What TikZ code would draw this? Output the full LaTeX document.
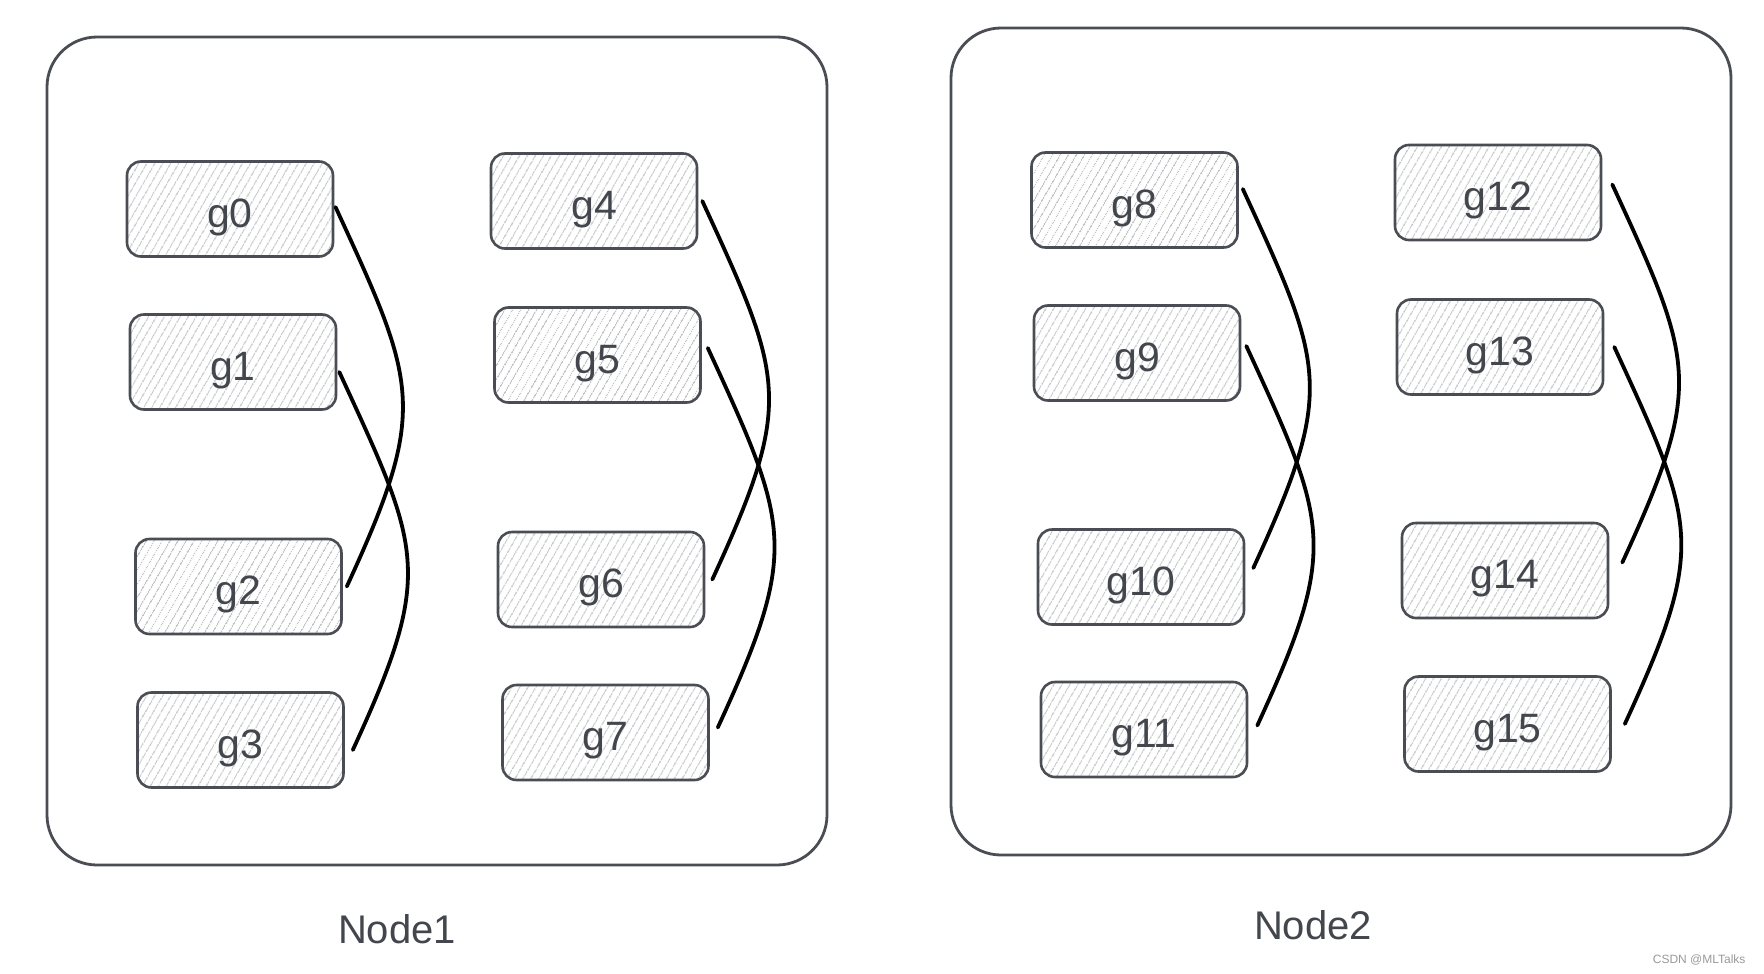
\documentclass[tikz,border=0pt]{standalone}
\usepackage{fontspec}
\setmainfont{Liberation Sans}
\usetikzlibrary{patterns.meta}
\definecolor{edge}{HTML}{4A4E54}
\definecolor{txt}{HTML}{43474D}
\definecolor{hatch}{HTML}{C4C5C8}
\definecolor{wm}{HTML}{9A9A9A}
\begin{document}
\begin{tikzpicture}[x=1pt,y=-1pt,
  gbox/.style={draw=edge, line width=2.6pt, rounded corners=14pt,
    minimum width=206pt, minimum height=95pt, inner sep=0pt,
    pattern={Lines[angle=60,distance=6.5pt,line width=1pt]}, pattern color=hatch,
    font=\fontsize{41}{41}\selectfont, text=txt, text height=36pt, text depth=0pt},
  container/.style={draw=edge, line width=2.8pt, rounded corners=50pt, inner sep=0pt},
  link/.style={line width=3.8pt, black, line cap=round},
  caption/.style={font=\fontsize{40}{40}\selectfont, text=txt},
  wmark/.style={font=\fontsize{12}{12}\selectfont, text=wm, anchor=east}]
\fill[white] (0,0) rectangle (1764,974);
\useasboundingbox (0,0) rectangle (1764,974);
% containers
\node[container, minimum width=780pt, minimum height=828pt] (box1) at (437,451) {};
\node[container, minimum width=780pt, minimum height=827pt] (box2) at (1341,441.5) {};
% gpus
\node[gbox] (g0) at (230,209) {g0};
\node[gbox] (g1) at (233,362) {g1};
\node[gbox] (g2) at (238.5,586.5) {g2};
\node[gbox] (g3) at (240.5,740) {g3};
\node[gbox] (g4) at (594,201) {g4};
\node[gbox] (g5) at (597.5,355) {g5};
\node[gbox] (g6) at (601,579.5) {g6};
\node[gbox] (g7) at (605.5,732.5) {g7};
\node[gbox] (g8) at (1134.5,200) {g8};
\node[gbox] (g9) at (1137,353) {g9};
\node[gbox] (g10) at (1141,577) {g10};
\node[gbox] (g11) at (1144,729.5) {g11};
\node[gbox] (g12) at (1498,192.5) {g12};
\node[gbox] (g13) at (1500,347) {g13};
\node[gbox] (g14) at (1505,570.5) {g14};
\node[gbox] (g15) at (1507.5,724) {g15};
% links
\draw[link] ([shift={(2,-2)}]g0.east) .. controls +(82,178) and +(82,-178) .. ([shift={(4,0)}]g2.east);
\draw[link] ([shift={(2,10)}]g1.east) .. controls +(82,178) and +(82,-178) .. ([shift={(8,10)}]g3.east);
\draw[link] ([shift={(4,0)}]g4.east) .. controls +(82,178) and +(82,-178) .. ([shift={(7,0)}]g6.east);
\draw[link] ([shift={(6,-7)}]g5.east) .. controls +(82,178) and +(82,-178) .. ([shift={(8,-5)}]g7.east);
\draw[link] ([shift={(4,-11)}]g8.east) .. controls +(82,178) and +(82,-178) .. ([shift={(8,-9)}]g10.east);
\draw[link] ([shift={(5,-7)}]g9.east) .. controls +(82,178) and +(82,-178) .. ([shift={(9,-4)}]g11.east);
\draw[link] ([shift={(10,-8)}]g12.east) .. controls +(82,178) and +(82,-178) .. ([shift={(13,-8)}]g14.east);
\draw[link] ([shift={(10,0)}]g13.east) .. controls +(82,178) and +(82,-178) .. ([shift={(13,0)}]g15.east);
% captions
\node[caption] (node1) at (397,929) {Node1};
\node[caption] (node2) at (1313,925) {Node2};
\node[wmark] (wm) at (1749,960) {CSDN @MLTalks};
\end{tikzpicture}
\end{document}
